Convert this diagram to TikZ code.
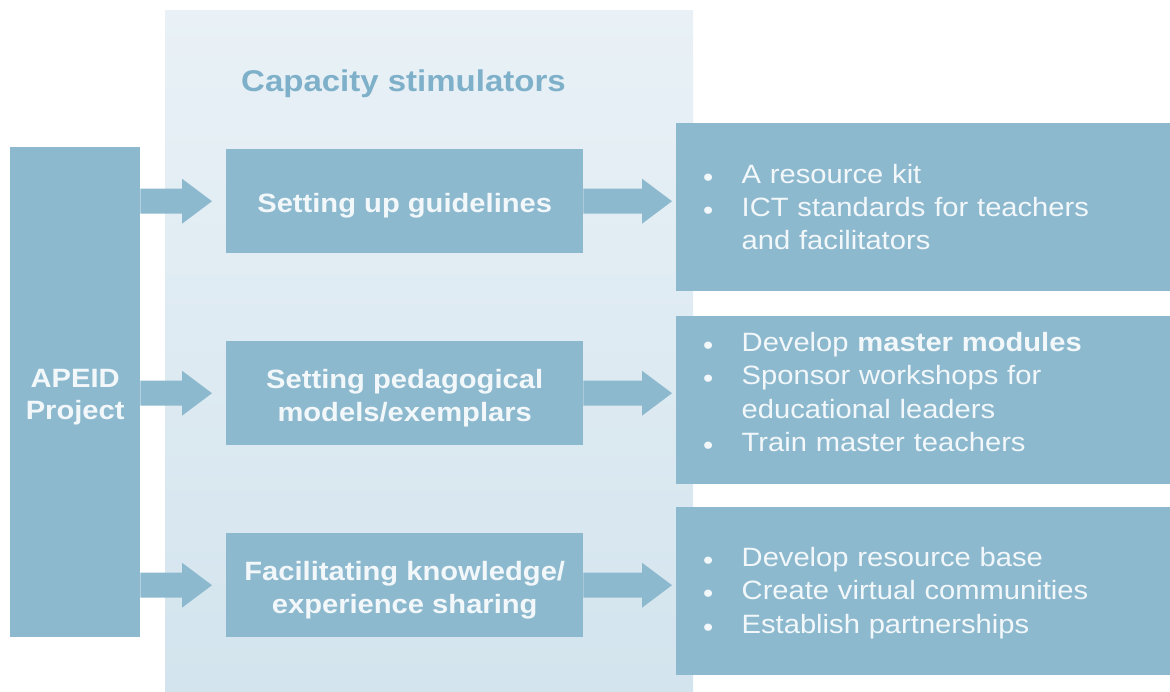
\documentclass[tikz,border=0pt]{standalone}
\usepackage{fontspec}
\setmainfont{Liberation Sans}[FakeStretch=1.1]
\usetikzlibrary{calc}
\definecolor{boxblue}{HTML}{8DB9CF}
\definecolor{titleblue}{HTML}{7EB0CA}
\definecolor{paneltop}{HTML}{E9F1F6}
\definecolor{panelbot}{HTML}{D3E4EE}
\definecolor{softwhite}{HTML}{F2F7FA}
\newcommand\bul{\makebox[38.5pt][l]{\raisebox{-3pt}{•}}}
\newcommand\tstrut{\rule{0pt}{28.5pt}}
\newcommand\barrow[2]{\fill[boxblue] let \p1=(#1), \p2=(#2) in
  (\x1,\y1+12.5pt) -- (\x2-30pt,\y1+12.5pt) -- (\x2-30pt,\y1+22.5pt) -- (\x2,\y1)
  -- (\x2-30pt,\y1-22.5pt) -- (\x2-30pt,\y1-12.5pt) -- (\x1,\y1-12.5pt) -- cycle;}
\tikzset{
  boxbase/.style={fill=boxblue, draw=none, inner sep=0pt, anchor=north west},
  midbox/.style={boxbase, minimum width=357pt, minimum height=104pt,
    text=softwhite, align=center, font=\bfseries\fontsize{26.5}{33}\selectfont},
  resbox/.style={boxbase, minimum width=494pt, minimum height=168pt},
  apeidbox/.style={boxbase, minimum width=130pt, minimum height=490pt,
    text=softwhite, align=center, font=\bfseries\fontsize{26.5}{32}\selectfont},
  listtext/.style={anchor=base west, inner sep=0pt, text width=460pt, align=left,
    text=softwhite, font=\fontsize{26.5}{33.3}\selectfont},
  titletext/.style={anchor=base west, inner sep=0pt, text=titleblue,
    font=\bfseries\fontsize{30}{34}\selectfont}
}
\begin{document}
\begin{tikzpicture}[x=1pt,y=-1pt]
\useasboundingbox (0,0) rectangle (1170,691);
\fill[white] (0,0) rectangle (1170,691);
% background panel
\shade[top color=paneltop, bottom color=panelbot] (165,10) rectangle (693,691);
\node[titletext] (title) at (241,91) {Capacity stimulators};
% APEID box
\node[apeidbox] (apeid) at (10,147) {\tstrut APEID\\Project};
% middle boxes
\node[midbox] (m1) at (226,149) {\tstrut Setting up guidelines};
\node[midbox] (m2) at (226,341) {\tstrut Setting pedagogical\\models/exemplars};
\node[midbox] (m3) at (226,533) {\tstrut Facilitating knowledge/\\experience sharing};
% result boxes
\node[resbox] (r1) at (676,123) {};
\node[resbox] (r2) at (676,316) {};
\node[resbox] (r3) at (676,507) {};
\node[listtext] (l1) at (703,183) {\bul A resource kit\\
  \bul ICT standards for teachers\\
  \hspace*{38.5pt}and facilitators};
\node[listtext] (l2) at (703,351.5) {\bul Develop \textbf{master modules}\\
  \bul Sponsor workshops for\\
  \hspace*{38.5pt}educational leaders\\
  \bul Train master teachers};
\node[listtext] (l3) at (703,566.5) {\bul Develop resource base\\
  \bul Create virtual communities\\
  \bul Establish partnerships};
% block arrows
\barrow{apeid.east |- m1.west}{[xshift=-14pt]m1.west}
\barrow{apeid.east |- m2.west}{[xshift=-14pt]m2.west}
\barrow{apeid.east |- m3.west}{[xshift=-14pt]m3.west}
\barrow{m1.east}{[xshift=-4pt]r1.west}
\barrow{m2.east}{[xshift=-4pt]r2.west}
\barrow{m3.east}{[xshift=-4pt]r3.west}
\end{tikzpicture}
\end{document}
